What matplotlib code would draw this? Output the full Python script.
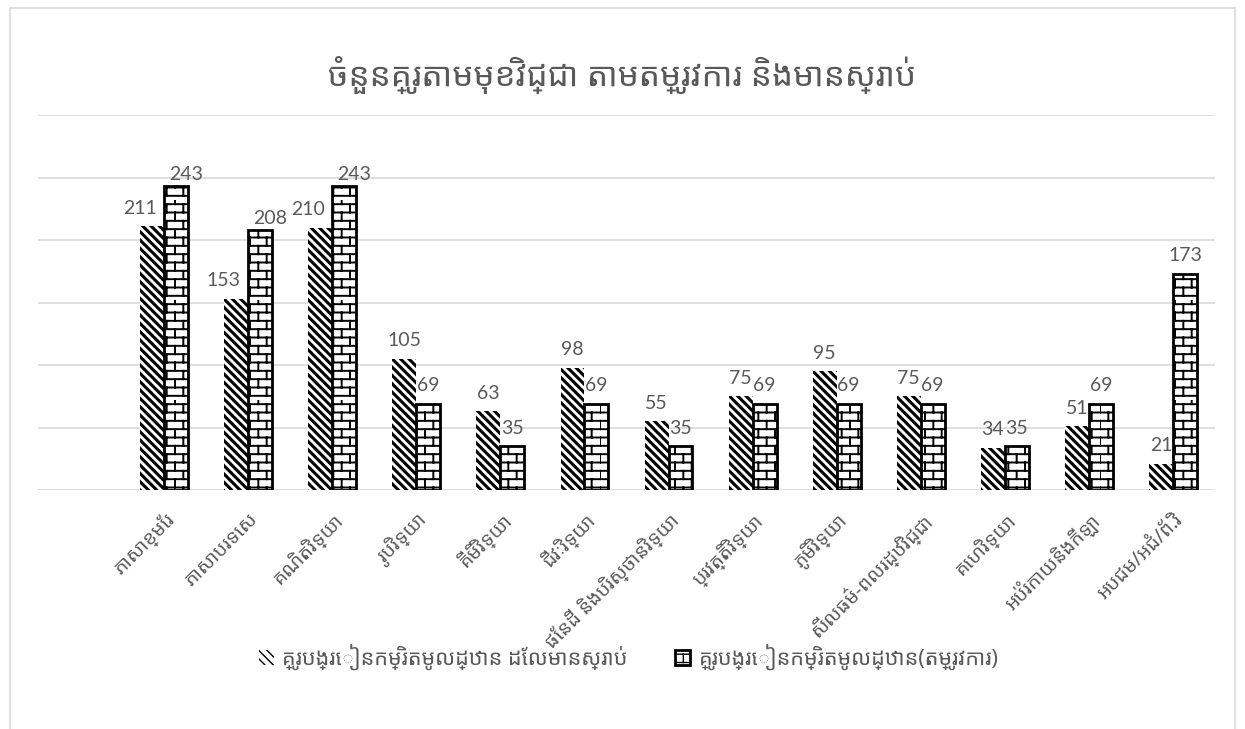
import warnings
import numpy as np
import matplotlib
matplotlib.use('Agg')
import matplotlib.pyplot as plt
from matplotlib import font_manager as fm
from matplotlib import hatch as mhatch
from matplotlib.path import Path
from matplotlib.patches import Rectangle

warnings.simplefilter('ignore')

title = 'ចំនួនគ្រូតាមមុខវិជ្ជា តាមតម្រូវការ និងមានស្រាប់'
subjects = ['ភាសាខ្មែរ', 'ភាសាបរទេស', 'គណិតវិទ្យា', 'រូបវិទ្យា', 'គីមីវិទ្យា',
            'ជីវៈវិទ្យា', 'ផែនដី និងបរិស្ថានវិទ្យា', 'ប្រវត្តិវិទ្យា', 'ភូមិវិទ្យា',
            'សីលធម៌-ពលរដ្ឋវិជ្ជា', 'គេហវិទ្យា', 'អប់រំកាយនិងកីឡា', 'អបជម/អជំ/ព័.វិ']
existing = [211, 153, 210, 105, 63, 98, 55, 75, 95, 75, 34, 51, 21]
required = [243, 208, 243, 69, 35, 69, 35, 69, 69, 69, 35, 69, 173]
series_names = ['គ្រូបង្រៀនកម្រិតមូលដ្ឋាន ដែលមានស្រាប់',
                'គ្រូបង្រៀនកម្រិតមូលដ្ឋាន(តម្រូវការ)']


def pick_khmer_family():
    """Take the first Khmer font that is installed"""
    for name in ['Noto Sans Khmer', 'Kantumruy Pro', 'Hanuman', 'Battambang', 'Content']:
        try:
            fm.findfont(fm.FontProperties(family=name), fallback_to_default=False)
            return name
        except ValueError:
            pass
    return None


class BrickHatch(mhatch.HatchPatternBase):
    """Brick pattern, used with the 'B' hatch letter"""
    rows = 12
    cols = 6

    def __init__(self, hatch, density):
        self.on = hatch.count('B') > 0
        self.num_vertices = (2 * self.rows + 2 * self.rows * self.cols) if self.on else 0

    def set_vertices_and_codes(self, vertices, codes):
        step = 1.0 / self.rows
        k = 0
        for i in range(self.rows):
            y = i * step + step / 2
            vertices[k] = (0.0, y)
            vertices[k + 1] = (1.0, y)
            codes[k] = Path.MOVETO
            codes[k + 1] = Path.LINETO
            k += 2
        for i in range(self.rows):
            y0 = i * step + step / 2
            y1 = y0 + step
            shift = 0.5 if i % 2 else 0.0
            for j in range(self.cols):
                xx = (j + shift) / self.cols
                vertices[k] = (xx, y0)
                vertices[k + 1] = (xx, y1)
                codes[k] = Path.MOVETO
                codes[k + 1] = Path.LINETO
                k += 2


mhatch._hatch_types.append(BrickHatch)

khmer = pick_khmer_family()
families = [khmer, 'DejaVu Sans'] if khmer else ['DejaVu Sans']
plt.rcParams['font.family'] = families

text_color = '#595959'
grid_color = '#d9d9d9'

fig = plt.figure(figsize=(12.45, 7.29), dpi=100)
ax = fig.add_axes([38 / 1245, 1 - 490 / 729, (1215 - 38) / 1245, (490 - 115) / 729])

x = np.arange(len(subjects))
w = 0.285

with plt.rc_context({'hatch.linewidth': 2.2}):
    b1 = ax.bar(x - w / 2, existing, w, color='white', edgecolor='black',
                linewidth=0, hatch='\\\\\\\\', label=series_names[0])
with plt.rc_context({'hatch.linewidth': 1.4}):
    b2 = ax.bar(x + w / 2, required, w, color='white', edgecolor='black',
                linewidth=2.0, hatch='B', label=series_names[1])

for bars, lw in ((b1, 2.2), (b2, 1.4)):
    for p in bars:
        if hasattr(p, 'set_hatch_linewidth'):
            p.set_hatch_linewidth(lw)

# value labels above the bars; where both bars are tall the labels move apart
num_font = ['Lato', 'DejaVu Sans']
for i in range(len(subjects)):
    crowded = existing[i] > 150 and required[i] > 150
    ax.annotate(str(existing[i]), (x[i] - w / 2, existing[i]),
                xytext=(-9 if crowded else 0, 7), textcoords='offset points',
                ha='center', va='bottom', fontsize=14, color=text_color, family=num_font)
    ax.annotate(str(required[i]), (x[i] + w / 2, required[i]),
                xytext=(7 if crowded else 0, 7 if not crowded else 2), textcoords='offset points',
                ha='center', va='bottom', fontsize=14, color=text_color, family=num_font)

ax.set_xlim(-1.5, len(subjects) - 0.5)
ax.set_ylim(0, 300)
ax.set_yticks(np.arange(0, 301, 50))
ax.set_yticklabels([])
ax.yaxis.grid(True, color=grid_color, linewidth=1.2)
ax.set_axisbelow(True)
ax.tick_params(axis='both', length=0)
for s in ax.spines.values():
    s.set_visible(False)

ax.set_xticks(x)
ax.set_xticklabels(subjects, rotation=45, ha='right', rotation_mode='anchor',
                   fontsize=14, color=text_color)
ax.tick_params(axis='x', pad=14)

fig.text(0.5, 1 - 75 / 729, title, ha='center', va='center', fontsize=24, color=text_color)

leg = fig.legend(handles=[b1, b2], loc='center', bbox_to_anchor=(0.505, 1 - 657 / 729),
                 ncol=2, frameon=False, fontsize=15.5, handlelength=0.7, handleheight=0.7,
                 columnspacing=2.2, handletextpad=0.4, labelcolor=text_color)

fig.patches.append(Rectangle((10 / 1245, -0.02), 1225 / 1245, 1 - 8 / 729 + 0.02,
                             transform=fig.transFigure, fill=False,
                             edgecolor=grid_color, linewidth=1.2))

fig.savefig('out.png', dpi=100)
